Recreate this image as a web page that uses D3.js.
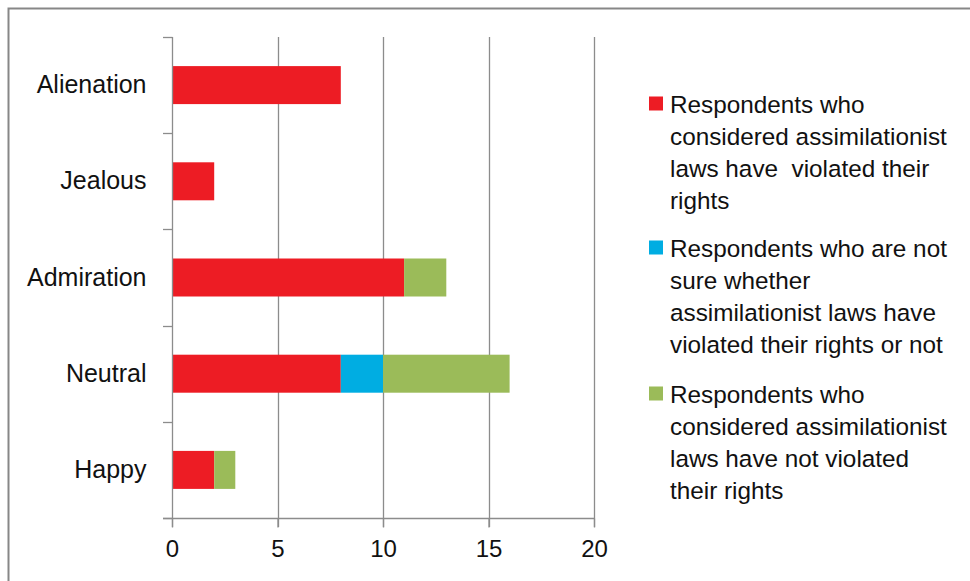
<!DOCTYPE html>
<html><head><meta charset="utf-8">
<script src="https://cdn.jsdelivr.net/npm/d3@7"></script>
<style>body{margin:0;background:#fff}svg{display:block}text{font-family:"Liberation Sans",Arial,sans-serif;fill:#111}</style>
</head><body>
<script>
const categories = ["Alienation","Jealous","Admiration","Neutral","Happy"];
const violated = [8,2,11,8,2];
const notSure = [0,0,0,2,0];
const notViolated = [0,0,2,6,1];
const xTicks = [0,5,10,15,20];
const seriesNames = [
  ["Respondents who","considered assimilationist","laws have  violated their","rights"],
  ["Respondents who are not","sure whether","assimilationist laws have","violated their rights or not"],
  ["Respondents who","considered assimilationist","laws have not violated","their rights"]
];
const colors = ["#ED1C24","#00ADE2","#9BBB59"];

const W=970,H=581;
const svg=d3.select("body").append("svg").attr("width",W).attr("height",H);
svg.append("path").attr("d","M8.5,581 V8.5 H970").attr("fill","none").attr("stroke","#878787").attr("stroke-width",2);

const x=d3.scaleLinear().domain([0,20]).range([172,594]);
const y=d3.scaleBand().domain(categories).range([37,518]).paddingInner(0.605).paddingOuter(0.3025);

const g=svg.append("g");
g.selectAll("line.grid").data(xTicks.slice(1)).join("line")
 .attr("x1",d=>Math.round(x(d))+0.5).attr("x2",d=>Math.round(x(d))+0.5)
 .attr("y1",37).attr("y2",527).attr("stroke","#8c8c8c").attr("stroke-width",1.3);

const stackData=categories.map((c,i)=>({cat:c,v0:violated[i],v1:notSure[i],v2:notViolated[i]}));
const stack=d3.stack().keys(["v0","v1","v2"])(stackData);
stack.forEach((s,si)=>{
  g.selectAll(null).data(s.filter(d=>d[1]>d[0])).join("rect")
   .attr("x",d=>x(d[0])).attr("width",d=>x(d[1])-x(d[0]))
   .attr("y",d=>y(d.data.cat)).attr("height",y.bandwidth())
   .attr("fill",colors[si]);
});

const yAxis=d3.axisLeft(y).tickSize(0).tickPadding(26);
const ya=svg.append("g").attr("transform","translate(172.5,0)").call(yAxis);
ya.select(".domain").remove();
ya.selectAll("text").attr("font-size",25).style("font-family","Liberation Sans, Arial, sans-serif").attr("fill","#111");
svg.append("line").attr("x1",172.5).attr("x2",172.5).attr("y1",37).attr("y2",527).attr("stroke","#8c8c8c").attr("stroke-width",1.3);
const bounds=d3.range(categories.length+1).map(i=>37+i*(481/categories.length));
svg.selectAll("line.yt").data(bounds).join("line")
 .attr("x1",163).attr("x2",172.5).attr("y1",d=>Math.round(d)+0.5).attr("y2",d=>Math.round(d)+0.5)
 .attr("stroke","#8c8c8c").attr("stroke-width",1.3);

const xAxis=d3.axisBottom(x).tickValues(xTicks).tickSize(9).tickPadding(12);
const xa=svg.append("g").attr("transform","translate(0,518.5)").call(xAxis);
xa.select(".domain").remove();
xa.selectAll("line").attr("stroke","#8c8c8c").attr("stroke-width",1.3);
xa.selectAll("text").attr("font-size",24).style("font-family","Liberation Sans, Arial, sans-serif").attr("fill","#111");
svg.append("line").attr("x1",163).attr("x2",594).attr("y1",518.5).attr("y2",518.5).attr("stroke","#8c8c8c").attr("stroke-width",1.3);

const legTop=[104,248,394];
seriesNames.forEach((lines,i)=>{
  svg.append("rect").attr("x",649).attr("y",legTop[i]-7.5).attr("width",14).attr("height",14).attr("fill",colors[i]);
  const t=svg.append("text").attr("x",670).attr("y",legTop[i]).attr("font-size",24.3).style("white-space","pre");
  lines.forEach((l,j)=>t.append("tspan").attr("x",670).attr("y",legTop[i]+j*32.3).attr("dy","0.35em").text(l));
});
</script>
</body></html>
